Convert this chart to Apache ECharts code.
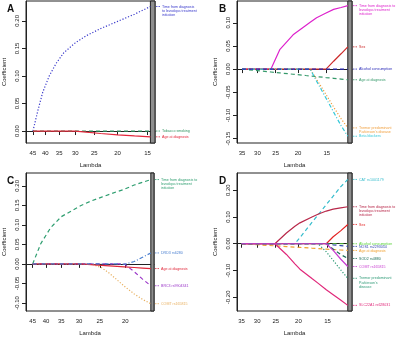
<!DOCTYPE html>
<html>
<head>
<meta charset="utf-8">
<script src="https://cdn.jsdelivr.net/npm/echarts@6/dist/echarts.min.js"></script>
<style>
html, body { margin: 0; padding: 0; background: #fff; }
#chart { width: 400px; height: 337px; }
</style>
</head>
<body>
<div id="chart"></div>
<script>
// Panel A
var lambdaA = [45, 43, 41, 38.5, 36, 33.5, 30, 27, 23.5, 20, 17, 14.6];
var timeA = [0, 0.036, 0.070, 0.100, 0.123, 0.142, 0.160, 0.173, 0.186, 0.199, 0.212, 0.226];
var tobaccoA = [0, 0, 0, 0, 0, 0, 0, 0, 0, 0, 0, 0];
var ageA = [0, 0, 0, 0, 0, 0, 0, -0.002, -0.0045, -0.0068, -0.0088, -0.0105];
var xTicksA = [45, 40, 35, 30, 25, 20, 15];
var yTicksA = [0, 0.05, 0.10, 0.15, 0.20];

// Panel B
var lambdaB = [35, 30, 26.2, 24, 21, 18.5, 17.7, 16.6, 15.1, 14, 13, 12.15];
var timeB = [0, 0, 0, 0.042, 0.074, 0.094, 0.101, 0.111, 0.121, 0.129, 0.133, 0.137];
var sexB = [0, 0, 0, 0, 0, 0, 0, 0, 0, 0.017, 0.033, 0.048];
var alcoholB = [0, 0, 0, 0, 0, 0, 0, 0, 0, 0, 0, 0];
var ageB = [0, -0.0034, -0.0063, -0.0082, -0.0111, -0.0139, -0.0148, -0.0162, -0.0183, -0.0199, -0.0215, -0.023];
var tremorB = [0, 0, 0, 0, 0, 0, 0, -0.022, -0.055, -0.082, -0.107, -0.127];
var betaB = [0, 0, 0, 0, 0, 0, 0, -0.026, -0.063, -0.093, -0.122, -0.145];
var xTicksB = [35, 30, 25, 20, 15];
var yTicksB = [-0.15, -0.10, -0.05, 0, 0.05, 0.10];

// Panel C
var lambdaC = [45, 41.9, 38.4, 35, 29.6, 27, 24.6, 23, 21.5, 20.2, 18.5, 17.2, 16];
var timeC = [0, 0.052, 0.093, 0.121, 0.149, 0.161, 0.171, 0.178, 0.185, 0.191, 0.202, 0.209, 0.216];
var drd3C = [0, 0, 0, 0, 0, 0, 0, 0, 0, -0.001, 0.006, 0.017, 0.028];
var ageC = [0, 0, 0, 0, 0, -0.0018, -0.0036, -0.005, -0.0063, -0.0076, -0.0093, -0.0107, -0.012];
var brc3C = [0, 0, 0, 0, 0, 0, 0, 0, 0, 0, -0.020, -0.039, -0.056];
var comtC = [0, 0, 0, 0, 0, 0, -0.010, -0.024, -0.041, -0.057, -0.077, -0.091, -0.102];
var xTicksC = [45, 40, 35, 30, 25, 20];
var yTicksC = [-0.10, -0.05, 0, 0.05, 0.10, 0.15, 0.20];

// Panel D
var lambdaD = [35, 30, 25.2, 22.5, 20.7, 19.7, 17.5, 16.5, 15.2, 14.2, 13.2, 12.3];
var catD = [0, 0, 0, 0, 0, 0.023, 0.080, 0.107, 0.146, 0.178, 0.212, 0.240];
var timeD = [0, 0, 0, 0.040, 0.065, 0.078, 0.100, 0.110, 0.122, 0.129, 0.134, 0.138];
var sexD = [0, 0, 0, 0, 0, 0, 0, 0, 0, 0.026, 0.048, 0.072];
var alcoholD = [0, 0, 0, 0, 0, 0, 0, 0, 0, 0, 0, 0];
var nos1D = [0, 0, 0, 0, 0, 0, 0, 0, 0, -0.004, -0.007, -0.010];
var ageD = [0, -0.0037, -0.0078, -0.0106, -0.0126, -0.0137, -0.0166, -0.018, -0.020, -0.0216, -0.0233, -0.025];
var sod2D = [0, 0, 0, 0, 0, 0, 0, 0, 0, -0.020, -0.040, -0.055];
var comtD = [0, 0, 0, 0, 0, 0, 0, 0, 0, -0.025, -0.057, -0.085];
var tremorD = [0, 0, 0, 0, 0, 0, 0, 0, -0.030, -0.062, -0.097, -0.129];
var slcD = [0, 0, 0, -0.040, -0.075, -0.095, -0.130, -0.147, -0.172, -0.190, -0.210, -0.230];
var xTicksD = [35, 30, 25, 20, 15];
var yTicksD = [-0.20, -0.10, 0, 0.10, 0.20];

var TIME_LABEL = 'Time from diagnosis\nto levodopa treatment\ninitiation';
var TIME_LABEL2 = 'Time from diagnosis to\nlevodopa treatment\ninitiation';
var DOT = [1.2, 1.8], DASH = [4, 3], DASHDOT = [4, 2, 1, 2];

var panels = [
  { letter: 'A', box: [25, 1, 130, 142], lam: [48.1, 13.97], y: [-0.0217, 0.236], lambda: lambdaA, xTicks: xTicksA, yTicks: yTicksA,
    lines: [
      { label: TIME_LABEL, data: timeA, color: '#3a3acb', type: DOT },
      { label: 'Tobacco smoking', data: tobaccoA, color: '#2f9460', type: DASH },
      { label: 'Age at diagnosis', data: ageA, color: '#e3263a', type: 'solid' }
    ] },
  { letter: 'B', box: [237, 1, 115, 142], lam: [36.8, 11.65], y: [-0.1596, 0.147], lambda: lambdaB, xTicks: xTicksB, yTicks: yTicksB,
    lines: [
      { label: TIME_LABEL2, data: timeB, color: '#dd22cc', type: 'solid' },
      { label: 'Sex', data: sexB, color: '#cc2a2a', type: 'solid' },
      { label: 'Age at diagnosis', data: ageB, color: '#35996a', type: DASH },
      { label: 'Tremor predominant\nParkinson\'s disease', data: tremorB, color: '#f0a040', type: DOT },
      { label: 'Beta blockers', data: betaB, color: '#35c8d8', type: DASHDOT },
      { label: 'Alcohol consumption', data: alcoholB, color: '#2a2ab8', type: DASH }
    ] },
  { letter: 'C', box: [25, 173, 129, 143], lam: [47.7, 15.56], y: [-0.1207, 0.2328], lambda: lambdaC, xTicks: xTicksC, yTicks: yTicksC,
    lines: [
      { label: TIME_LABEL2, data: timeC, color: '#2f9e70', type: DASH },
      { label: 'COMT rs165815', data: comtC, color: '#e8b060', type: DOT },
      { label: 'BRC3 rs9904341', data: brc3C, color: '#9a35c8', type: DASH },
      { label: 'Age at diagnosis', data: ageC, color: '#e0283a', type: 'solid' },
      { label: 'DRD3 rs6280', data: drd3C, color: '#4a7fd0', type: DASHDOT }
    ] },
  { letter: 'D', box: [237, 173, 115, 144], lam: [36.6, 11.8], y: [-0.251, 0.264], lambda: lambdaD, xTicks: xTicksD, yTicks: yTicksD,
    lines: [
      { label: 'CAT rs1001179', data: catD, color: '#35bccc', type: DASH },
      { label: TIME_LABEL2, data: timeD, color: '#b8284a', type: 'solid' },
      { label: 'Sex', data: sexD, color: '#e32222', type: 'solid' },
      { label: 'Age at diagnosis', data: ageD, color: '#f0a030', type: DASH },
      { label: 'SOD2 rs4880', data: sod2D, color: '#1c6e58', type: DASH },
      { label: 'Tremor predominant\nParkinson\'s\ndisease', data: tremorD, color: '#2e9a76', type: DOT },
      { label: 'SLC22A1 rs628031', data: slcD, color: '#e0287a', type: 'solid' },
      { label: 'Alcohol consumption', data: alcoholD, color: '#5ad23a', type: DASH },
      { label: 'NOS1 rs2293054', data: nos1D, color: '#3345b0', type: DASH },
      { label: 'COMT rs165815', data: comtD, color: '#c83cd0', type: 'solid' }
    ] }
];

// x axis is -ln(lambda), so lambda decreases to the right
function lx(l) { return -Math.log(l); }

var chart = echarts.init(document.getElementById('chart'));
var grids = [], xAxes = [], yAxes = [], series = [], titles = [];
var ink = '#222';

panels.forEach(function (p, i) {
  grids.push({ left: p.box[0], top: p.box[1], width: p.box[2], height: p.box[3], show: true, borderColor: ink, borderWidth: 1 });
  titles.push({ text: p.letter, left: p.box[0] - 23, top: p.box[1] - 2, textStyle: { fontSize: 10, fontWeight: 'bold', color: '#111', fontFamily: 'Liberation Sans' } });
  var xt = p.xTicks.map(lx);
  xAxes.push({
    type: 'value', gridIndex: i, min: lx(p.lam[0]), max: lx(p.lam[1]),
    name: 'Lambda', nameLocation: 'middle', nameGap: 19,
    nameTextStyle: { fontSize: 6, color: ink, fontFamily: 'Liberation Sans' },
    axisLine: { show: true, lineStyle: { color: ink, width: 1 } },
    splitLine: { show: false },
    axisTick: { show: true, customValues: xt, length: 4, lineStyle: { color: ink } },
    axisLabel: { customValues: xt, margin: 7, fontSize: 6, color: ink, fontFamily: 'Liberation Sans',
      formatter: function (v) { return String(Math.round(Math.exp(-v))); } }
  });
  yAxes.push({
    type: 'value', gridIndex: i, min: p.y[0], max: p.y[1],
    name: 'Coefficient', nameLocation: 'middle', nameGap: 19,
    nameTextStyle: { fontSize: 6, color: ink, fontFamily: 'Liberation Sans' },
    axisLine: { show: true, lineStyle: { color: ink, width: 1 } },
    splitLine: { show: false },
    axisTick: { show: true, customValues: p.yTicks, length: 4, lineStyle: { color: ink } },
    axisLabel: { customValues: p.yTicks, rotate: 90, margin: 6, fontSize: 6, color: ink, fontFamily: 'Liberation Sans',
      formatter: function (v) { return v.toFixed(2); } }
  });
  p.lines.forEach(function (s, k) {
    var ser = {
      type: 'line', xAxisIndex: i, yAxisIndex: i, showSymbol: false, silent: true, animation: false,
      data: p.lambda.map(function (l, j) { return [lx(l), s.data[j]]; }),
      lineStyle: { color: s.color, width: 1.2, type: s.type },
      itemStyle: { color: s.color }
    };
    if (k === 0) {
      ser.markArea = {
        silent: true,
        itemStyle: { color: '#8e8e8e', borderColor: '#222', borderWidth: 1 },
        data: [[{ xAxis: lx(p.lambda[p.lambda.length - 1]) }, { xAxis: lx(p.lam[1]) }]]
      };
    }
    series.push(ser);
  });
});

chart.setOption({
  animation: false,
  title: titles,
  grid: grids,
  xAxis: xAxes,
  yAxis: yAxes,
  series: series
});

// labels at the right of each panel, placed at the end value of each path
var graphics = [];
panels.forEach(function (p, i) {
  var xEnd = lx(p.lambda[p.lambda.length - 1]);
  var right = p.box[0] + p.box[2];
  p.lines.forEach(function (s) {
    var pt = chart.convertToPixel({ gridIndex: i }, [xEnd, s.data[s.data.length - 1]]);
    graphics.push({ type: 'line', silent: true, shape: { x1: right + 1, y1: pt[1], x2: right + 5, y2: pt[1] },
      style: { stroke: s.color, lineWidth: 0.8, lineDash: [1.5, 1] } });
    graphics.push({ type: 'text', silent: true, x: right + 7, y: pt[1] - 2,
      style: { text: s.label, fill: s.color, fontSize: 3.6, lineHeight: 4.2, fontFamily: 'Liberation Sans', verticalAlign: 'top' } });
  });
});
chart.setOption({ graphic: graphics });
</script>
</body>
</html>
